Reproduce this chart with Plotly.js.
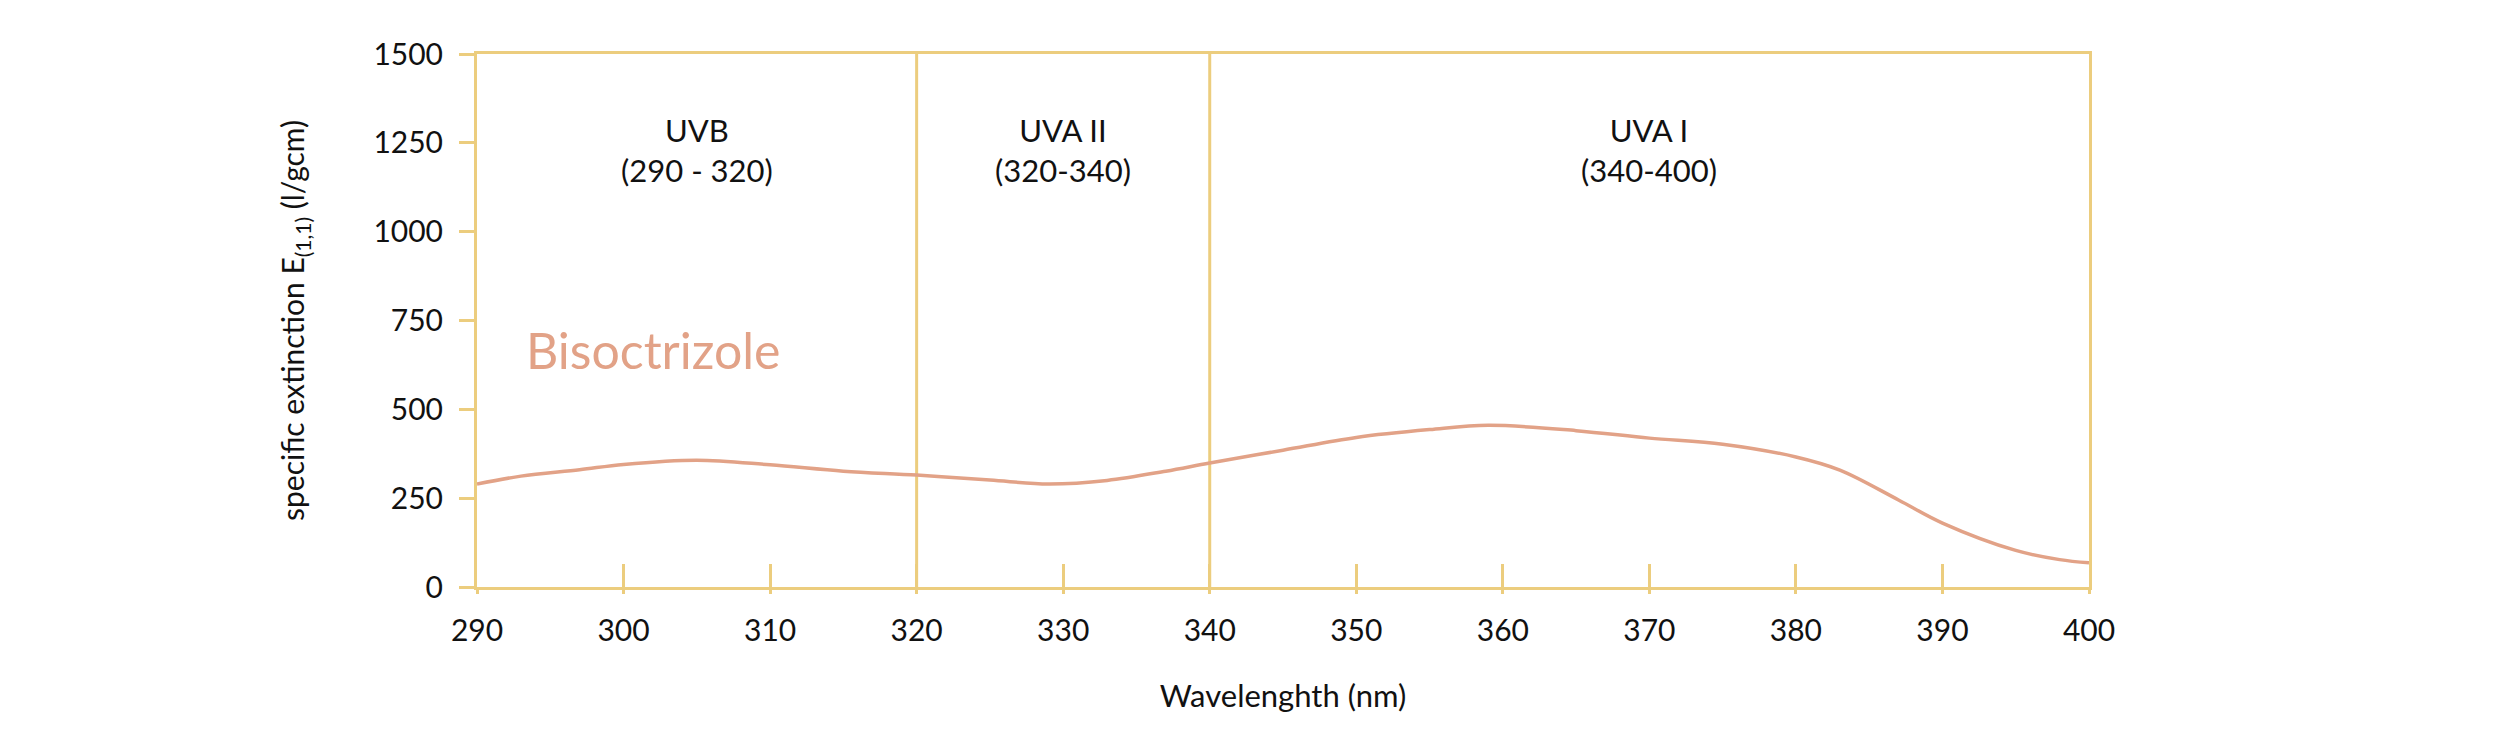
<!DOCTYPE html>
<html>
<head>
<meta charset="utf-8">
<script src="https://cdn.plot.ly/plotly-3.0.1.min.js"></script>
<style>html,body{margin:0;padding:0;background:#fff;}#chart{width:2500px;height:734px;}</style>
</head>
<body>
<div id="chart"></div>
<script>
// Data
const wavelength = [290, 293, 297, 300, 305, 310, 315, 320, 325, 329, 333, 337, 340, 345, 350, 355, 359, 365, 370, 375, 380, 383, 387, 390, 395, 398, 400];
const extinction = [290, 312, 330, 345, 357, 344, 326, 315, 301, 290, 300, 326, 349, 385, 421, 443, 455, 440, 419, 402, 366, 329, 245, 180, 103, 77, 68];
const seriesName = 'Bisoctrizole';
const xTicks = [290, 300, 310, 320, 330, 340, 350, 360, 370, 380, 390, 400];
const yTicks = [0, 250, 500, 750, 1000, 1250, 1500];
const bandBoundaries = [320, 340];
const bandCenters = [305, 330, 370];
const bandLabels = ['UVB<br>(290 - 320)', 'UVA II<br>(320-340)', 'UVA I<br>(340-400)'];
const bandLabelY = 1230;
const seriesLabelPos = {x: 302, y: 667};

const gold = '#ECCD7E';
const lineColor = '#E2A287';
const font = 'Lato, "Open Sans", sans-serif';

const traces = [{
  x: wavelength,
  y: extinction,
  type: 'scatter',
  mode: 'lines',
  name: seriesName,
  line: {color: lineColor, width: 3.5, shape: 'spline', smoothing: 1},
  hoverinfo: 'x+y',
  showlegend: false
}];

const shapes = bandBoundaries.map(b => ({
  type: 'line', xref: 'x', yref: 'paper', x0: b, x1: b, y0: 0, y1: 1,
  line: {color: gold, width: 3}, layer: 'below'
}));

const annotations = bandCenters.map((c, i) => ({
  x: c, y: bandLabelY, xref: 'x', yref: 'y', text: bandLabels[i], showarrow: false,
  xanchor: 'center', yanchor: 'middle', align: 'center',
  font: {family: font, size: 31, color: '#111'}
}));
annotations.push({
  x: seriesLabelPos.x, y: seriesLabelPos.y, xref: 'x', yref: 'y', text: seriesName, showarrow: false,
  xanchor: 'center', yanchor: 'middle',
  font: {family: font, size: 50, color: lineColor}
});

const layout = {
  width: 2500, height: 734,
  margin: {l: 477, r: 411, t: 54, b: 147},
  paper_bgcolor: '#fff', plot_bgcolor: '#fff',
  font: {family: font, color: '#111'},
  showlegend: false,
  xaxis: {
    range: [290, 400], tickvals: xTicks, ticktext: xTicks.map(String),
    ticks: 'inside', ticklen: 23, tickwidth: 3, tickcolor: gold,
    showline: true, linecolor: gold, linewidth: 3, mirror: true,
    showgrid: false, zeroline: false,
    tickfont: {family: font, size: 30, color: '#111'},
    ticklabelstandoff: 15,
    title: {text: 'Wavelenghth (nm)', font: {family: font, size: 31, color: '#111'}, standoff: 40},
    automargin: false
  },
  xaxis2: {
    overlaying: 'x', range: [290, 400], tickvals: xTicks, showticklabels: false,
    ticks: 'outside', ticklen: 6, tickwidth: 3, tickcolor: gold,
    showline: false, showgrid: false, zeroline: false
  },
  yaxis: {
    range: [0, 1500], tickvals: yTicks, ticktext: yTicks.map(String),
    ticks: 'outside', ticklen: 15, tickwidth: 3, tickcolor: gold,
    showline: true, linecolor: gold, linewidth: 3, mirror: true,
    showgrid: false, zeroline: false,
    tickfont: {family: font, size: 30, color: '#111'},
    ticklabelstandoff: 10,
    title: {text: 'specific extinction E<sub>(1,1)</sub> (l/gcm)', font: {family: font, size: 30, color: '#111'}, standoff: 60},
    automargin: false
  },
  shapes: shapes,
  annotations: annotations
};

// invisible trace anchoring the crossing tick overlay axis
traces.push({x: [290, 400], y: [0, 0], xaxis: 'x2', yaxis: 'y', mode: 'lines', line: {width: 0}, hoverinfo: 'skip', showlegend: false});

Plotly.newPlot('chart', traces, layout, {staticPlot: true, displayModeBar: false});
</script>
</body>
</html>
